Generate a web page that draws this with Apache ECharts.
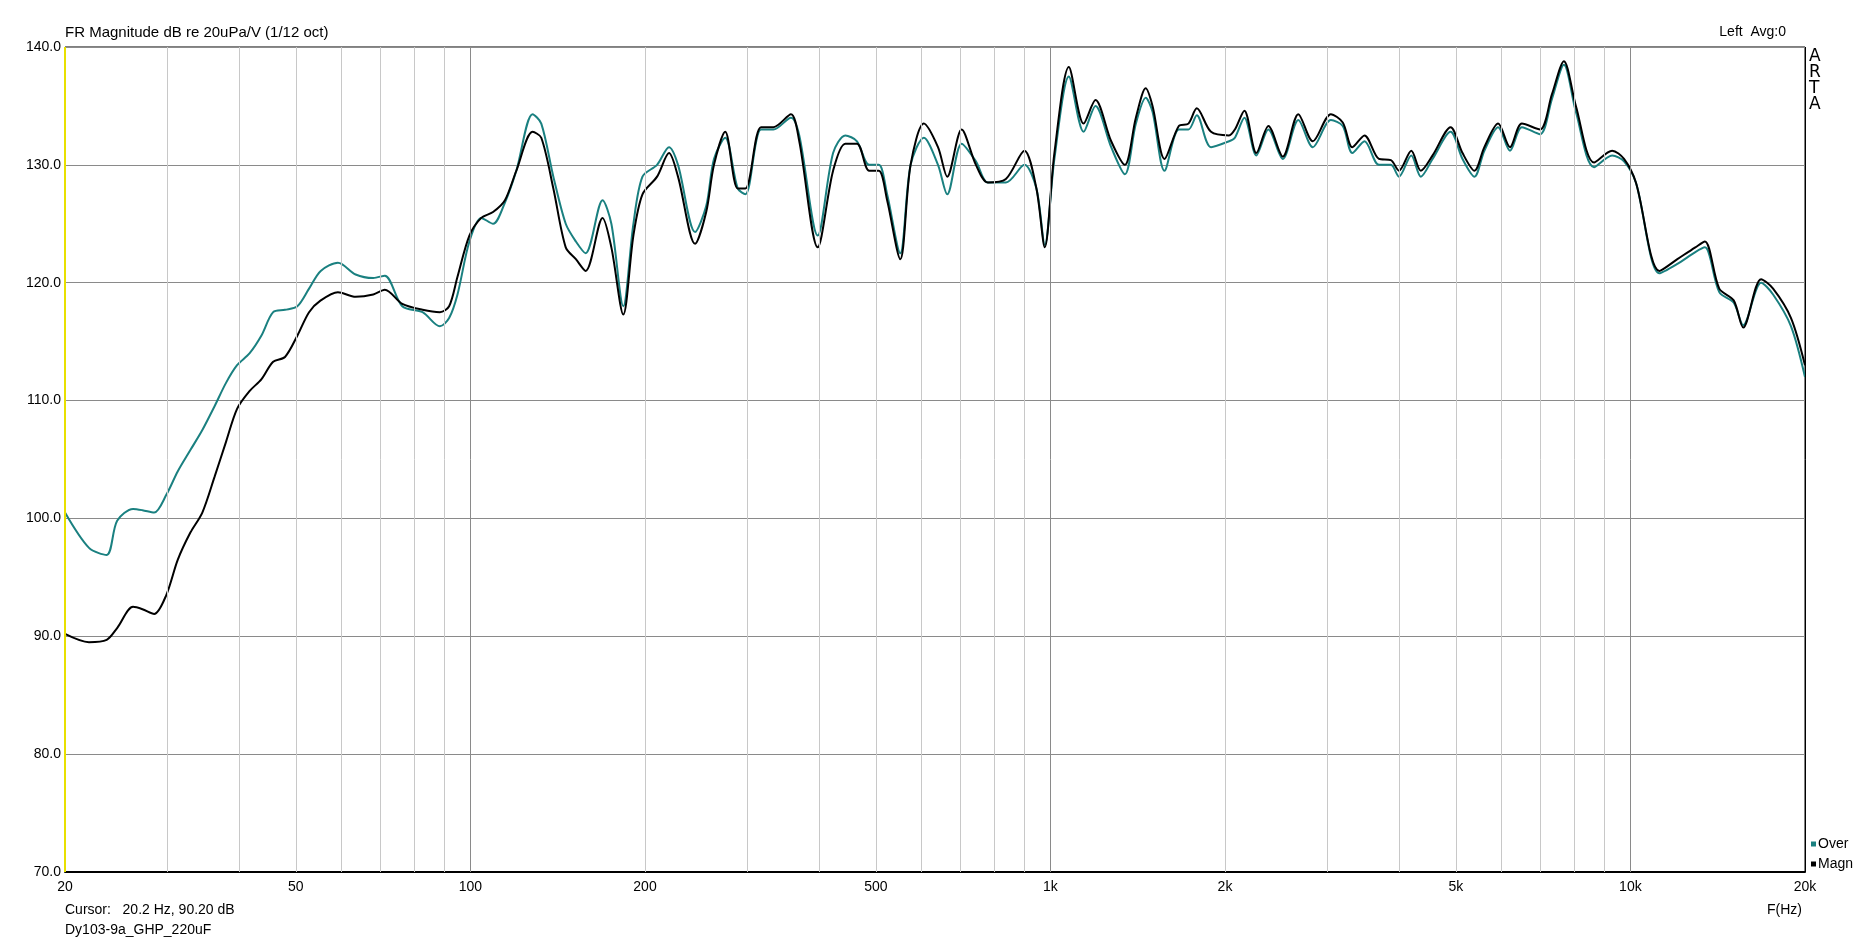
<!DOCTYPE html>
<html><head><meta charset="utf-8">
<script src="https://cdn.jsdelivr.net/npm/echarts@6/dist/echarts.min.js"></script>
<style>html,body{margin:0;padding:0;background:#fff}#c{width:1868px;height:944px}</style>
</head><body><div id="c"></div>
<script>
const freqs=[20,22,23.6,24.6,26.2,27.2,28.5,29.9,31.3,32.9,34.5,36.2,37.9,39.6,41.6,43.6,45.7,47.9,50.3,52.7,55.2,59.1,63.4,68,71.2,76.3,82.7,88.6,91.9,95,99.6,104.4,109.4,114.7,120,128,132.5,139,146,152,158,169,175,183.5,191,198,209.8,220,228,244,255,263,275,289,298,317,333,357,369,397,422,443,464,487,506,523,551,574,605,640,664,703,744,780,838,902,946,978,1016,1076,1141,1196,1273,1344,1404,1460,1500,1573,1665,1730,1788,1892,2032,2080,2160,2265,2376,2516,2676,2834,3045,3192,3316,3480,3685,3864,3990,4190,4352,4560,4898,5135,5385,5600,5915,6200,6500,6985,7325,7680,8054,8655,9300,9750,10220,11220,12050,12940,13440,14230,15070,15650,16800,17620,18920,20000];
const magn=[90.2,89.5,89.7,90.7,92.5,92.3,91.9,93.5,96.5,98.8,100.5,103.5,106.5,109.3,110.8,111.8,113.3,113.7,115.5,117.5,118.5,119.2,118.8,119.0,119.4,118.2,117.7,117.5,118.0,120.5,124,125.5,126,127,129.5,132.8,132.3,128,123,122,121,125.5,123,117.3,124,127.5,129,131,129,123.3,126,130,132.8,128,128,133.2,133.2,134.3,132,123,129.5,131.8,131.8,129.5,129.5,127,122,130,133.5,131.5,129,133,130,128.5,128.8,131.2,128,123,131,138.3,133.5,135.5,132,130,134,136.5,135,130.5,133.3,133.5,134.8,132.8,132.5,133,134.6,131,133.3,130.7,134.3,132,134.3,133.6,131.5,132.5,130.5,130.4,129.5,131.2,129.5,130.8,133.2,131,129.5,131.5,133.5,131.5,133.5,133,136,138.8,135,130.2,131.2,130.5,128.5,121,122,123,123.5,119.5,118.5,116.2,120.3,119.5,117,113];
const over=[100.5,97.5,96.9,99.8,100.8,100.7,100.5,102,104,105.8,107.5,109.5,111.5,113,114,115.5,117.5,117.7,118,119.5,121,121.7,120.7,120.4,120.6,118,117.5,116.3,117,119,123.5,125.5,125,126.8,129.5,134.3,133.5,129,125,123.5,122.5,127,125,118,125,129,130,131.5,130,124.3,126.5,130.5,132.3,128,127.5,133,133,134,132.5,124,131,132.5,132,130,130,127.5,122.5,130,132.3,130,127.5,131.8,130.3,128.5,128.5,130,128,123.2,130.5,137.5,132.8,135,131.5,129.2,133.5,135.7,134.5,129.5,133,133,134.2,131.5,132,132.3,134,130.8,133,130.5,133.8,131.5,133.8,133.3,131,132,130,130,129,130.8,129,130.5,132.8,130.5,129,131.2,133.2,131.2,133.2,132.6,135.6,138.5,134.5,129.8,130.8,130.3,128.5,120.8,121.6,122.6,123,119.2,118.3,116.4,120,119,116.3,112];
const gridFreqs=[30,40,50,60,70,80,90,100,200,300,400,500,600,700,800,900,1000,2000,3000,4000,5000,6000,7000,8000,9000,10000];
const majorFreqs=[100,1000,10000];
const tickLabels={20:'20',50:'50',100:'100',200:'200',500:'500',1000:'1k',2000:'2k',5000:'5k',10000:'10k',20000:'20k'};
const FONT='Liberation Sans';
const mk=(f)=>({xAxis:f,lineStyle:{color:majorFreqs.includes(f)?'#8a8a8a':'#c8c8c8',width:1,type:'solid'},
  label:{show:!!tickLabels[f],formatter:tickLabels[f]||'',position:'start',distance:8,color:'#000',fontFamily:FONT,fontSize:14}});
const markData=gridFreqs.map(mk);
markData.push({xAxis:20,lineStyle:{color:'#e8e000',width:2,type:'solid'},label:{show:true,formatter:'20',position:'start',distance:8,color:'#000',fontFamily:FONT,fontSize:14}});
markData.push({xAxis:20000,lineStyle:{color:'#000',width:1,type:'solid'},label:{show:true,formatter:'20k',position:'start',distance:8,color:'#000',fontFamily:FONT,fontSize:14}});
const chart=echarts.init(document.getElementById('c'),null,{renderer:'canvas'});
chart.setOption({
  animation:false,
  grid:{left:65,right:63,top:47,bottom:72,show:true,borderColor:'#000',borderWidth:1,backgroundColor:'#fff'},
  xAxis:{type:'log',logBase:10,min:20,max:20000,axisLabel:{show:false},axisTick:{show:false},splitLine:{show:false},minorSplitLine:{show:false},axisLine:{show:true,lineStyle:{color:'#000',width:2}}},
  yAxis:{type:'value',min:70,max:140,interval:10,axisLabel:{formatter:v=>v.toFixed(1),color:'#000',fontFamily:FONT,fontSize:14,margin:4},axisTick:{show:false},axisLine:{show:false},splitLine:{lineStyle:{color:'#8a8a8a',width:1}}},
  legend:{orient:'vertical',left:1806,top:832,itemWidth:5,itemHeight:5,itemGap:6,icon:'rect',textStyle:{fontFamily:FONT,fontSize:14,color:'#000',padding:[0,0,0,-3]},data:['Over','Magn']},
  graphic:[
    {type:'text',left:65,top:25,style:{text:'FR Magnitude dB re 20uPa/V (1/12 oct)',font:'15px "Liberation Sans"',fill:'#000'}},
    {type:'text',right:82,top:25,style:{text:'Left  Avg:0',font:'14px "Liberation Sans"',fill:'#000'}},
    {type:'text',left:1809,top:48,style:{text:'A\nR\nT\nA',font:'17px "DejaVu Sans"',fill:'#000',lineHeight:16}},
    {type:'text',left:65,top:903,style:{text:'Cursor:   20.2 Hz, 90.20 dB',font:'14px "Liberation Sans"',fill:'#000'}},
    {type:'text',left:65,top:923,style:{text:'Dy103-9a_GHP_220uF',font:'14px "Liberation Sans"',fill:'#000'}},
    {type:'text',left:1767,top:903,style:{text:'F(Hz)',font:'14px "Liberation Sans"',fill:'#000'}}
  ],
  series:[
    {name:'grid',type:'line',data:[],silent:true,markLine:{symbol:['none','none'],silent:true,animation:false,data:markData},z:1},
    {name:'Over',type:'line',data:freqs.map((f,i)=>[f,over[i]]),showSymbol:false,smooth:0.3,lineStyle:{color:'#1a8080',width:2},itemStyle:{color:'#1a8080'},z:3},
    {name:'Magn',type:'line',data:freqs.map((f,i)=>[f,magn[i]]),showSymbol:false,smooth:0.3,lineStyle:{color:'#000',width:2},itemStyle:{color:'#000'},z:4}
  ]
});
</script></body></html>
